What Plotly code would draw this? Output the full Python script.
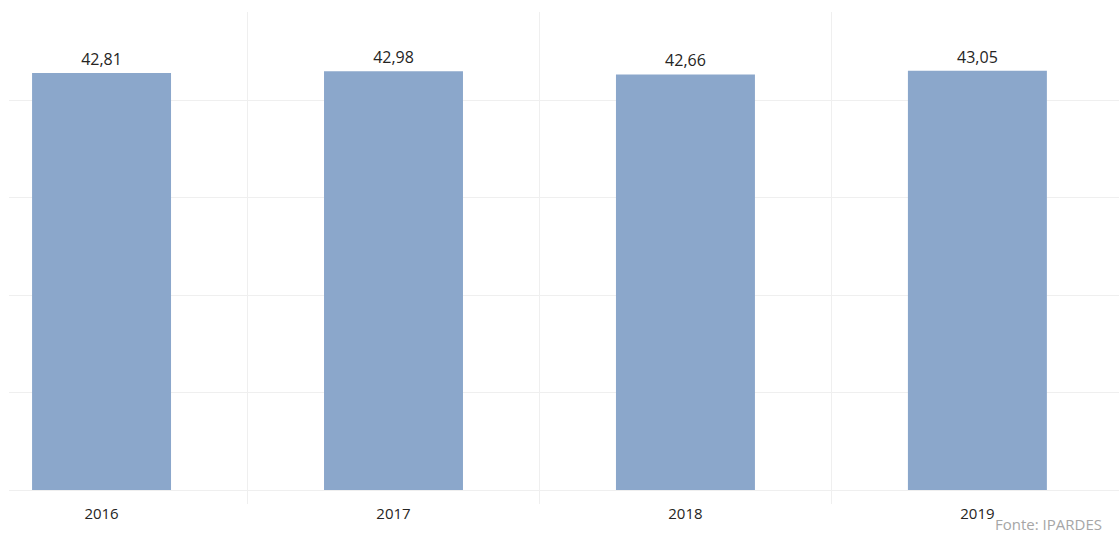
import plotly.graph_objects as go

years = ["2016", "2017", "2018", "2019"]
values = [42.81, 42.98, 42.66, 43.05]
source_text = "Fonte: IPARDES"

fig = go.Figure(
    go.Bar(
        x=years,
        y=values,
        width=0.476,
        marker=dict(color="#8BA7CB", line=dict(width=0)),
        texttemplate="%{y:.2f}",
        textposition="outside",
        textfont=dict(family="Open Sans", size=16, color="#252423"),
        cliponaxis=False,
        hoverinfo="skip",
    )
)

fig.update_layout(
    width=1119,
    height=536,
    margin=dict(l=9, r=0, t=12, b=46),
    paper_bgcolor="white",
    plot_bgcolor="white",
    separators=",.",
    showlegend=False,
    font=dict(family="Open Sans", size=16, color="#252423"),
    xaxis=dict(
        type="category",
        range=[-0.317, 3.485],
        tickson="boundaries",
        showgrid=True,
        gridcolor="#efefef",
        gridwidth=1,
        ticks="outside",
        ticklen=13,
        tickcolor="#efefef",
        ticklabelstandoff=13,
        showline=False,
        zeroline=False,
        tickfont=dict(family="Open Sans", size=15, color="#252423"),
    ),
    yaxis=dict(
        range=[0, 49.07],
        tick0=0,
        dtick=10,
        showticklabels=False,
        showgrid=True,
        gridcolor="#efefef",
        gridwidth=1,
        zeroline=True,
        zerolinecolor="#efefef",
        zerolinewidth=1,
        showline=False,
    ),
    annotations=[
        dict(
            text=source_text,
            xref="paper",
            yref="paper",
            x=0.887,
            y=-0.072,
            xanchor="left",
            yanchor="middle",
            borderpad=0,
            showarrow=False,
            font=dict(family="Open Sans", size=15, color="#a6a6a6"),
        )
    ],
)

fig.write_html("out.html")
